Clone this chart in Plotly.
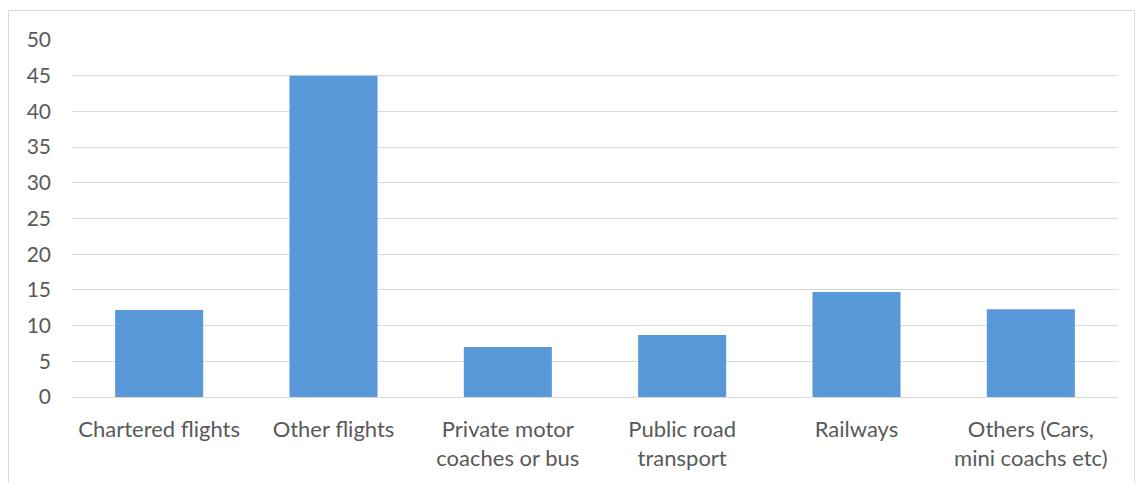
import plotly.graph_objects as go

categories = ["Chartered flights", "Other flights", "Private motor<br>coaches or bus",
              "Public road<br>transport", "Railways", "Others (Cars,<br>mini coachs etc)"]
values = [12.2, 45.0, 7.0, 8.7, 14.7, 12.3]
y_ticks = [0, 5, 10, 15, 20, 25, 30, 35, 40, 45, 50]

W, H = 1143, 483
ml, mr, mt, mb = 72, 25, 40, 86
pw, ph = W - ml - mr, H - mt - mb

fig = go.Figure(go.Bar(
    x=categories, y=values,
    marker=dict(color="#5898d8", line=dict(width=0)),
    hoverinfo="x+y",
))

fig.update_layout(
    width=W, height=H,
    margin=dict(l=ml, r=mr, t=mt, b=mb),
    paper_bgcolor="white", plot_bgcolor="white",
    bargap=0.495,
    showlegend=False,
    font=dict(family="Lato, 'Open Sans', sans-serif", size=22, color="#595959"),
    xaxis=dict(showgrid=False, showline=False, zeroline=False, ticks="",
               tickfont=dict(size=22, color="#595959"), ticklabelstandoff=17),
    yaxis=dict(range=[0, 50], tickvals=y_ticks, showgrid=True, gridcolor="#d9d9d9",
               gridwidth=1, zeroline=True, zerolinecolor="#d9d9d9", zerolinewidth=1,
               showline=False, ticks="", ticklabelstandoff=20,
               tickfont=dict(size=21, color="#595959")),
    shapes=[dict(type="rect", xref="paper", yref="paper", layer="below",
                 x0=(8.5 - ml) / pw, x1=(W - 8.5 - ml) / pw,
                 y0=-(mb + 5) / ph, y1=(ph + mt - 10.5) / ph,
                 line=dict(color="#d9d9d9", width=1), fillcolor="rgba(0,0,0,0)")],
)

fig.write_html("out.html")
